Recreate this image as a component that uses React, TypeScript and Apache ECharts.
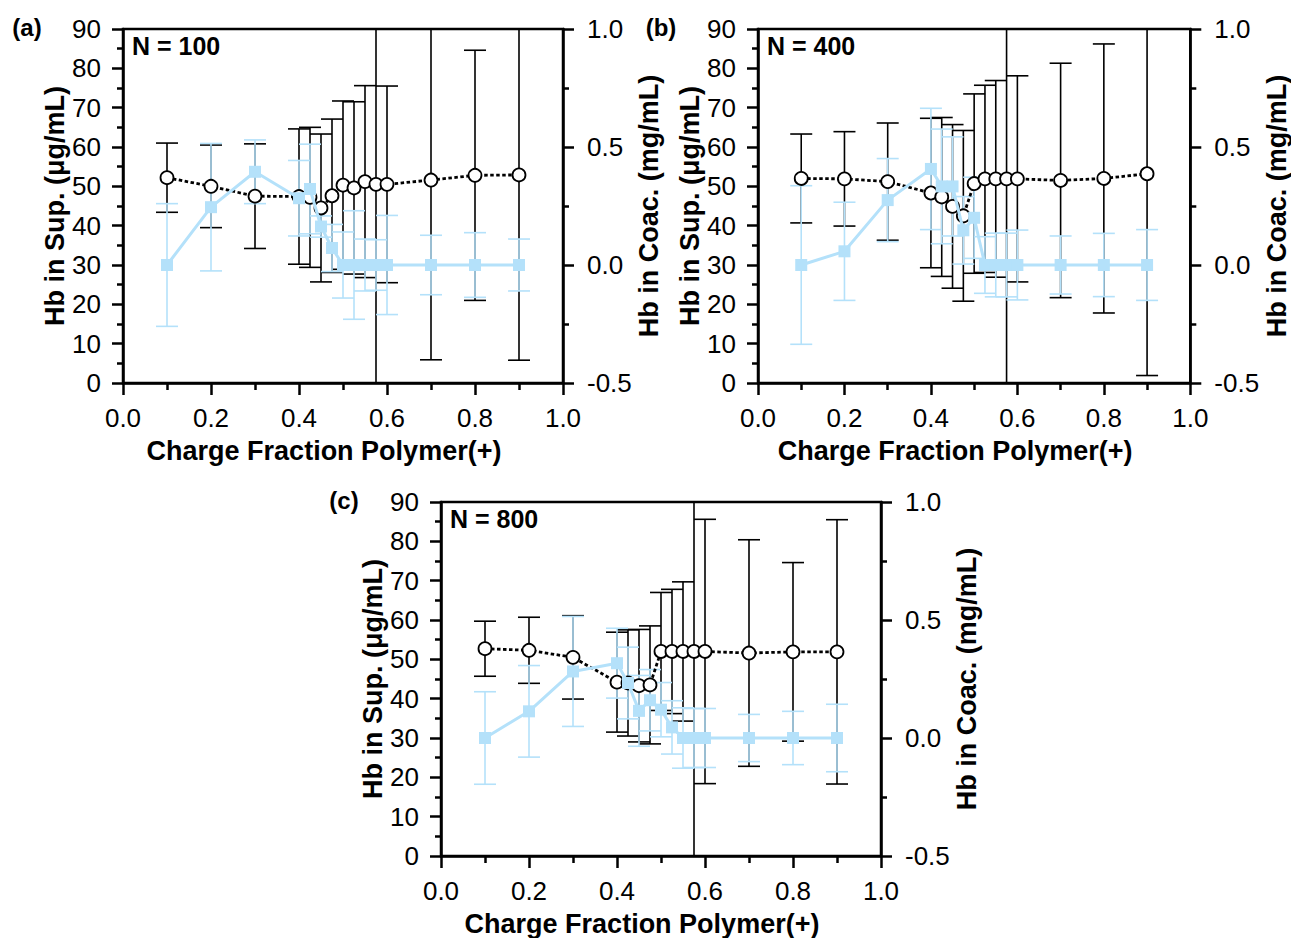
import React, { useEffect, useRef } from "react";
import * as echarts from "echarts";

// Charge fraction of polymer(+)
const chargeFraction = [0.1, 0.2, 0.3, 0.4, 0.425, 0.45, 0.475, 0.5, 0.525, 0.55, 0.575, 0.6, 0.7, 0.8, 0.9];

// Panel (a) N = 100
const supA = [52.2, 50.0, 47.5, 47.4, 47.2, 44.5, 47.6, 50.3, 49.6, 51.2, 50.5, 50.5, 51.6, 52.8, 52.9];
const supErrA = [8.8, 10.5, 13.3, 17.2, 17.8, 18.8, 19.5, 21.4, 21.9, 24.4, 80, 25.0, 45.7, 31.8, 47.1];
const coacA = [0.0, 0.245, 0.395, 0.283, 0.322, 0.163, 0.072, 0, 0, 0, 0, 0, 0, 0, 0];
const coacErrA = [0.26, 0.27, 0.135, 0.16, 0.19, 0.045, 0.1, 0.14, 0.23, 0.11, 0.107, 0.21, 0.126, 0.137, 0.11];

// Panel (b) N = 400
const supB = [52.0, 51.9, 51.2, 48.3, 47.3, 44.9, 42.5, 50.7, 51.9, 51.9, 51.9, 51.9, 51.5, 52.0, 53.2];
const supErrB = [11.3, 12.0, 14.9, 19.0, 20.2, 20.8, 21.7, 22.8, 23.8, 25.0, 80, 26.2, 29.8, 34.2, 51.3];
const coacB = [0.0, 0.058, 0.275, 0.407, 0.333, 0.333, 0.147, 0.2, 0, 0, 0, 0, 0, 0, 0];
const coacErrB = [0.336, 0.208, 0.176, 0.257, 0.243, 0.21, 0.143, 0.172, 0.12, 0.135, 0.135, 0.148, 0.123, 0.134, 0.15];

// Panel (c) N = 800
const supC = [52.7, 52.3, 50.5, 44.2, 44.0, 43.3, 43.5, 52.0, 52.0, 52.0, 52.0, 52.0, 51.6, 51.9, 51.9];
const supErrC = [7.0, 8.4, 10.6, 12.7, 13.5, 14.3, 15.0, 15.0, 15.8, 17.7, 80, 33.6, 28.8, 22.7, 33.6];
const coacC = [0.0, 0.113, 0.282, 0.317, 0.233, 0.115, 0.16, 0.12, 0.045, 0, 0, 0, 0, 0, 0];
const coacErrC = [0.196, 0.194, 0.233, 0.148, 0.152, 0.15, 0.13, 0.115, 0.113, 0.128, 0.125, 0.125, 0.1, 0.113, 0.143];

const panelLabels = ["(a)", "(b)", "(c)"];
const nLabels = ["N = 100", "N = 400", "N = 800"];
const xTitle = "Charge Fraction Polymer(+)";
const leftTitle = "Hb in Sup. (μg/mL)";
const rightTitle = "Hb in Coac. (mg/mL)";

const FONT = "'Liberation Sans', Arial, Helvetica, sans-serif";
const BLUE = "#b4e1fa";

const panels = [
  { sup: supA, supErr: supErrA, coac: coacA, coacErr: coacErrA, left: 123, top: 29, height: 354, label: { x: 27, y: 27 } },
  { sup: supB, supErr: supErrB, coac: coacB, coacErr: coacErrB, left: 758, top: 29, height: 354, label: { x: 661, y: 27 } },
  { sup: supC, supErr: supErrC, coac: coacC, coacErr: coacErrC, left: 441, top: 502, height: 355, label: { x: 344, y: 500 } },
];

function errorRender(color: string, width: number, capHalf: number) {
  return (params: any, api: any) => {
    const x = api.value(0);
    const lo = api.value(1);
    const hi = api.value(2);
    const cs = params.coordSys;
    const pLo = api.coord([x, lo]);
    const pHi = api.coord([x, hi]);
    const top = cs.y;
    const bottom = cs.y + cs.height;
    const yHi = Math.max(pHi[1], top);
    const yLo = Math.min(pLo[1], bottom);
    const style = { stroke: color, lineWidth: width };
    const children: any[] = [
      { type: "line", shape: { x1: pHi[0], y1: yHi, x2: pHi[0], y2: yLo }, style },
    ];
    if (pHi[1] >= top) children.push({ type: "line", shape: { x1: pHi[0] - capHalf, y1: pHi[1], x2: pHi[0] + capHalf, y2: pHi[1] }, style });
    if (pLo[1] <= bottom) children.push({ type: "line", shape: { x1: pLo[0] - capHalf, y1: pLo[1], x2: pLo[0] + capHalf, y2: pLo[1] }, style });
    return { type: "group", children };
  };
}

export default function App() {
  const ref = useRef<HTMLDivElement>(null);
  useEffect(() => {
    if (!ref.current) return;
    const chart = echarts.init(ref.current, null, { renderer: "svg" });
    const axisLine = { show: true, onZero: false, lineStyle: { color: "#000", width: 2.5 } };
    const labelStyle = { fontSize: 26, color: "#000", fontFamily: FONT };
    const nameStyle = { fontSize: 27, color: "#000", fontFamily: FONT, fontWeight: "bold" as const };

    const grid: any[] = [];
    const xAxis: any[] = [];
    const yAxis: any[] = [];
    const series: any[] = [];
    const graphic: any[] = [];

    panels.forEach((p, i) => {
      grid.push({
        left: p.left, top: p.top, width: 440, height: p.height,
        show: true, borderColor: "#000", borderWidth: 2.5, backgroundColor: "transparent",
      });
      xAxis.push({
        type: "value", gridIndex: i, min: 0, max: 1, interval: 0.2,
        axisLine,
        axisTick: { show: true, length: 12, lineStyle: { color: "#000", width: 2.5 } },
        minorTick: { show: true, splitNumber: 2, length: 7, lineStyle: { color: "#000", width: 2.5 } },
        splitLine: { show: false }, minorSplitLine: { show: false },
        axisLabel: { ...labelStyle, margin: 22, showMinLabel: true, showMaxLabel: true, formatter: (v: number) => v.toFixed(1) },
        name: xTitle, nameLocation: "middle", nameGap: 54,
        nameTextStyle: { ...nameStyle, padding: [0, 38, 0, 0] },
      });
      yAxis.push({
        type: "value", gridIndex: i, position: "left", min: 0, max: 90, interval: 10,
        axisLine,
        axisTick: { show: true, length: 11, lineStyle: { color: "#000", width: 2.5 } },
        minorTick: { show: true, splitNumber: 2, length: 6, lineStyle: { color: "#000", width: 2.5 } },
        splitLine: { show: false }, minorSplitLine: { show: false },
        axisLabel: { ...labelStyle, margin: 22, showMinLabel: true, showMaxLabel: true },
        name: leftTitle, nameLocation: "middle", nameGap: 40, nameRotate: 90, nameTextStyle: nameStyle,
      });
      yAxis.push({
        type: "value", gridIndex: i, position: "right", min: -0.5, max: 1.0, interval: 0.5,
        axisLine,
        axisTick: { show: true, length: 11, lineStyle: { color: "#000", width: 2.5 } },
        minorTick: { show: true, splitNumber: 2, length: 6, lineStyle: { color: "#000", width: 2.5 } },
        splitLine: { show: false }, minorSplitLine: { show: false },
        axisLabel: { ...labelStyle, margin: 24, showMinLabel: true, showMaxLabel: true, formatter: (v: number) => v.toFixed(1) },
        name: rightTitle, nameLocation: "middle", nameGap: 57, nameRotate: 90, nameTextStyle: nameStyle,
      });
      const leftIdx = i * 2;
      const rightIdx = i * 2 + 1;
      series.push({
        type: "custom", coordinateSystem: "cartesian2d", xAxisIndex: i, yAxisIndex: leftIdx, z: 2,
        renderItem: errorRender("#000", 1.6, 11),
        data: chargeFraction.map((x, k) => [x, p.sup[k] - p.supErr[k], p.sup[k] + p.supErr[k]]),
        silent: true,
      });
      series.push({
        type: "custom", coordinateSystem: "cartesian2d", xAxisIndex: i, yAxisIndex: rightIdx, z: 3,
        renderItem: errorRender(BLUE, 1.6, 11),
        data: chargeFraction.map((x, k) => [x, p.coac[k] - p.coacErr[k], p.coac[k] + p.coacErr[k]]),
        silent: true,
      });
      series.push({
        type: "line", xAxisIndex: i, yAxisIndex: leftIdx, z: 4,
        data: chargeFraction.map((x, k) => [x, p.sup[k]]),
        symbol: "circle", symbolSize: 13, showAllSymbol: true,
        lineStyle: { color: "#000", width: 2.8, type: [3.5, 2.5] },
        itemStyle: { color: "#fff", borderColor: "#000", borderWidth: 1.8 },
      });
      series.push({
        type: "line", xAxisIndex: i, yAxisIndex: rightIdx, z: 5,
        data: chargeFraction.map((x, k) => [x, p.coac[k]]),
        symbol: "rect", symbolSize: 12, showAllSymbol: true,
        lineStyle: { color: BLUE, width: 3 },
        itemStyle: { color: BLUE },
      });
      graphic.push({
        type: "text", x: p.label.x, y: p.label.y,
        style: { text: panelLabels[i], font: `bold 24px ${FONT}`, fill: "#000", textAlign: "center", textVerticalAlign: "middle" },
      });
      graphic.push({
        type: "text", x: p.left + 9, y: p.top + 17,
        style: { text: nLabels[i], font: `bold 25px ${FONT}`, fill: "#000", textAlign: "left", textVerticalAlign: "middle" },
      });
    });

    chart.setOption({
      animation: false,
      backgroundColor: "#fff",
      grid, xAxis, yAxis, series, graphic,
    });
    return () => chart.dispose();
  }, []);
  return <div ref={ref} style={{ position: "fixed", left: 0, top: 0, width: 1291, height: 938, background: "#fff" }} />;
}
